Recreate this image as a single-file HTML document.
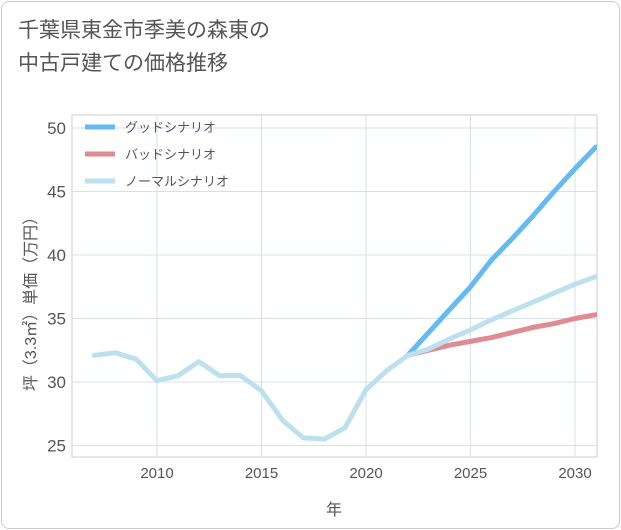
<!DOCTYPE html>
<html><head><meta charset="utf-8">
<style>
body{margin:0;background:#fff;font-family:"Liberation Sans","Noto Sans CJK JP",sans-serif;}
#card{position:absolute;left:1px;top:1px;width:617px;height:526px;border:1px solid #ccc;border-radius:8px;background:#fff;}
#title{position:absolute;left:18px;top:14px;font-size:21px;line-height:33px;color:#555;}
</style></head><body>
<div id="card"></div>
<div id="title">千葉県東金市季美の森東の<br>中古戸建ての価格推移</div>
<svg id="chart" width="621" height="530" style="position:absolute;left:0;top:0"></svg>
<script>
const years=[2007,2008,2009,2010,2011,2012,2013,2014,2015,2016,2017,2018,2019,2020,2021,2022];
const hist=[32.1,32.3,31.8,30.1,30.5,31.6,30.5,30.5,29.3,27.0,25.6,25.5,26.4,29.4,30.9,32.1];
const fYears=[2022,2023,2024,2025,2026,2027,2028,2029,2030,2031];
const good=[32.1,33.9,35.7,37.5,39.6,41.3,43.1,45.0,46.8,48.5];
const bad=[32.1,32.5,32.9,33.2,33.5,33.9,34.3,34.6,35.0,35.3];
const normal=[32.1,32.6,33.4,34.1,34.9,35.6,36.3,37.0,37.7,38.3];
const xTicks=[2010,2015,2020,2025,2030];
const yTicks=[25,30,35,40,45,50];
const L=72,R=597,T=115,B=457;
const x=v=>157+(v-2010)*20.9;
const y=v=>382-(v-30)*12.7;
const svg=document.getElementById('chart');
const NS='http://www.w3.org/2000/svg';
function mk(t,a){const e=document.createElementNS(NS,t);for(const k in a)e.setAttribute(k,a[k]);svg.appendChild(e);return e;}
let bg=mk('rect',{x:L,y:T,width:R-L,height:B-T,fill:'#fff',stroke:'#ccc'});


xTicks.forEach(v=>{
 let g=mk('line',{x1:x(v),x2:x(v),y1:T,y2:B,stroke:'#d5e0ea'});
 
 
 let t=mk('text',{x:x(v),y:478,'font-size':15,fill:'#555','text-anchor':'middle'});t.textContent=v;
 
 
});
yTicks.forEach(v=>{
 let g=mk('line',{x1:L,x2:R,y1:y(v),y2:y(v),stroke:'#d5e0ea'});
 
 
 let t=mk('text',{x:66,y:y(v)+6,'font-size':17,fill:'#555','text-anchor':'end'});t.textContent=v;
 
 
});
let xt=mk('text',{x:334,y:515,'font-size':16,fill:'#555','text-anchor':'middle'});xt.textContent='年';


let yt=mk('text',{x:0,y:0,'font-size':16,fill:'#555','text-anchor':'middle',transform:'translate(36,300) rotate(-90)'});yt.textContent='坪（3.3㎡）単価（万円）';


const defs=mk('defs',{});
const cp=document.createElementNS(NS,'clipPath');cp.setAttribute('id','c');defs.appendChild(cp);
const cr=document.createElementNS(NS,'rect');cr.setAttribute('x',L);cr.setAttribute('y',T);cr.setAttribute('width',R-L);cr.setAttribute('height',B-T);cp.appendChild(cr);
function line(xs,ys,col,name){
 let p=mk('polyline',{points:xs.map((v,i)=>x(v)+','+y(ys[i])).join(' '),fill:'none',stroke:col,'stroke-width':5,'stroke-linejoin':'round','stroke-linecap':'round','clip-path':'url(#c)'});
 
 
}
line(fYears,good,'#64baf2','good-scenario-line');
line(fYears,bad,'#e08a91','bad-scenario-line');
line(fYears,normal,'#bde0ef','normal-scenario-line');
line(years,hist,'#bde0ef','historical-line');
[['グッドシナリオ','#64baf2'],['バッドシナリオ','#e08a91'],['ノーマルシナリオ','#bde0ef']].forEach((d,i)=>{
 let yy=127+i*27;
 let l=mk('line',{x1:85,x2:115,y1:yy,y2:yy,stroke:d[1],'stroke-width':5});
 
 
 let t=mk('text',{x:125,y:yy+5,'font-size':13,fill:'#555'});t.textContent=d[0];
 
 
});
</script>
</body></html>
